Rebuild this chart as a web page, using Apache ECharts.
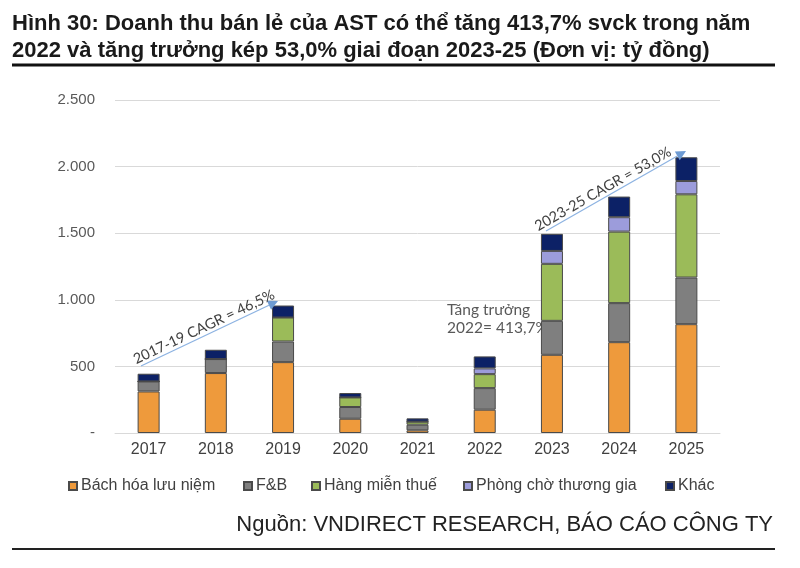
<!DOCTYPE html>
<html>
<head>
<meta charset="utf-8">
<script src="https://cdn.jsdelivr.net/npm/echarts@6/dist/echarts.min.js"></script>
<style>
html,body{margin:0;padding:0;background:#fff;}
#main{width:800px;height:568px;}
</style>
</head>
<body>
<div id="main"></div>
<script>
const categories = ['2017','2018','2019','2020','2021','2022','2023','2024','2025'];
const bachHoa   = [312, 450, 532, 107, 20, 175, 587, 682, 817];
const fnb       = [75, 105, 155, 88, 42, 162, 255, 293, 350];
const mienThue  = [0, 0, 180, 72, 23, 105, 428, 537, 625];
const phongCho  = [0, 0, 0, 0, 0, 43, 97, 108, 100];
const khac      = [58, 70, 90, 33, 25, 90, 128, 155, 178];
const seriesNames = ['Bách hóa lưu niệm','F&B','Hàng miễn thuế','Phòng chờ thương gia','Khác'];
const yTicks = [0, 500, 1000, 1500, 2000, 2500];

const colors = ['#EE9A3C','#7F7F7F','#9BBB59','#9C9CDB','#0C2166'];
const seriesData = [bachHoa, fnb, mienThue, phongCho, khac];

const chart = echarts.init(document.getElementById('main'));

function arrowGraphics(x1,y1,x2,y2,text,tx,ty){
  const dx=x2-x1, dy=y2-y1, L=Math.sqrt(dx*dx+dy*dy);
  const ux=dx/L, uy=dy/L, nx=-uy, ny=ux;
  const bx=x2-10*ux, by=y2-10*uy;
  const ang=Math.atan2(-dy,dx);
  return [
    {type:'line', shape:{x1:x1,y1:y1,x2:bx,y2:by}, style:{stroke:'#8DB3E2', lineWidth:1.3}, z:10},
    {type:'polygon', shape:{points:[[x2,y2],[bx+5*nx,by+5*ny],[bx-5*nx,by-5*ny]]}, style:{fill:'#6E9BD3'}, z:10},
    {type:'text', x:tx, y:ty, rotation:ang, style:{text:text, fontFamily:'Lato, "Open Sans", sans-serif', fontSize:14.5, fill:'#404040', align:'center', verticalAlign:'middle'}, z:11}
  ];
}

const fmt = v => v === 0 ? '-' : v.toString().replace(/\B(?=(\d{3})+(?!\d))/g, '.');

const legendLefts = [63, 238, 306, 458, 660];

const option = {
  animation:false,
  title:{
    text:'Hình 30: Doanh thu bán lẻ của AST có thể tăng 413,7% svck trong năm\n2022 và tăng trưởng kép 53,0% giai đoạn 2023-25 (Đơn vị: tỷ đồng)',
    left:7, top:5,
    textStyle:{fontFamily:'"Liberation Sans", Arial, sans-serif', fontWeight:'bold', fontSize:22, lineHeight:27, color:'#1a1a1a'}
  },
  legend: seriesNames.map((n,i)=>({
    data:[n], left:legendLefts[i], top:473, itemWidth:8, itemHeight:8, itemGap:4,
    icon:'rect',
    textStyle:{fontFamily:'"Liberation Sans", Arial, sans-serif', fontSize:16, color:'#404040', padding:[0,0,0,-1]}
  })),
  grid:{left:115, right:80, top:100, bottom:135},
  xAxis:{
    type:'category', data:categories,
    axisLine:{lineStyle:{color:'#d9d9d9'}},
    axisTick:{show:false},
    axisLabel:{fontFamily:'"Liberation Sans", Arial, sans-serif', fontSize:16, color:'#404040', margin:9}
  },
  yAxis:{
    type:'value', min:0, max:2500, interval:500,
    axisLine:{show:false}, axisTick:{show:false},
    splitLine:{lineStyle:{color:'#d9d9d9'}},
    axisLabel:{fontFamily:'"Liberation Sans", Arial, sans-serif', fontSize:15, color:'#595959', margin:20, formatter:fmt}
  },
  series: seriesNames.map((n,i)=>({
    name:n, type:'bar', stack:'total', barWidth:22,
    data:seriesData[i],
    itemStyle:{color:colors[i], borderColor:'#4a4a4a', borderWidth:1}
  })),
  graphic:[
    {type:'line', shape:{x1:12,y1:65,x2:775,y2:65}, style:{stroke:'#111', lineWidth:3}},
    {type:'line', shape:{x1:12,y1:549,x2:775,y2:549}, style:{stroke:'#222', lineWidth:2}},
    {type:'text', x:773, y:525, style:{text:'Nguồn: VNDIRECT RESEARCH, BÁO CÁO CÔNG TY', fontFamily:'"Liberation Sans", Arial, sans-serif', fontSize:22, fill:'#222', align:'right', verticalAlign:'middle'}},
    {type:'text', x:447, y:319, style:{text:'Tăng trưởng\n2022= 413,7%', fontFamily:'Lato, "Open Sans", sans-serif', fontSize:15.5, lineHeight:18, fill:'#595959', align:'left', verticalAlign:'middle'}},
    ...arrowGraphics(141,366,278,301,'2017-19 CAGR = 46,5%',204,327),
    ...arrowGraphics(546,231,686,151,'2023-25 CAGR = 53,0%',603,189)
  ]
};
chart.setOption(option);
</script>
</body>
</html>
